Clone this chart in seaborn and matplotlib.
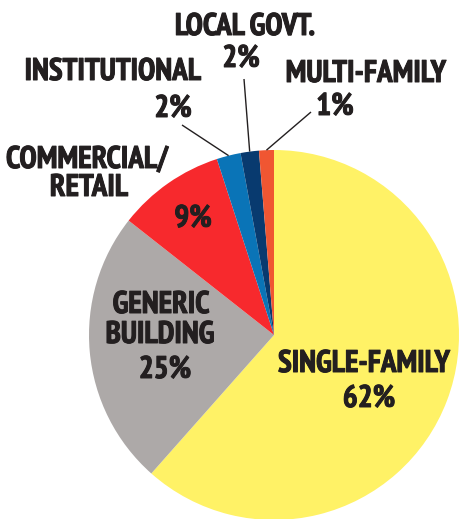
import numpy as np
import matplotlib.pyplot as plt
import matplotlib.patheffects as pe
import seaborn as sns

# --- data (clockwise from 12 o'clock)
categories = ["SINGLE-FAMILY", "GENERIC BUILDING", "COMMERCIAL/RETAIL",
              "INSTITUTIONAL", "LOCAL GOVT.", "MULTI-FAMILY"]
shares = [61.6, 24.1, 9.4, 2.1, 1.6, 1.3]
pct_labels = ["62%", "25%", "9%", "2%", "2%", "1%"]
colors = ["#FFF266", "#ADA9A8", "#F7292D", "#0A74B7", "#083A6F", "#F05632"]

sns.set_theme(style="white")
plt.rcParams['font.family'] = ['PT Sans Narrow', 'Fira Sans Condensed', 'DejaVu Sans']
ink = "#231F20"
fs = 22.5

fig = plt.figure(figsize=(4.6, 5.19), dpi=100)
ax = fig.add_axes([0, 0, 1, 1])

# pie in pixel-like units so the layout is easy to place
cx, cy, r = 274, 184, 185
wedges, _ = ax.pie(shares, colors=sns.color_palette(colors), startangle=90,
                   counterclock=False, center=(cx, cy), radius=r,
                   wedgeprops=dict(linewidth=0))
ax.set_xlim(0, 460)
ax.set_ylim(0, 519)
ax.set_aspect('equal')
ax.axis('off')

heavy = [pe.withStroke(linewidth=0.7, foreground=ink)]


def txt(x, y, s, ha='center'):
    ax.text(x, y, s, ha=ha, va='baseline', fontsize=fs, fontweight='bold',
            color=ink, path_effects=heavy)


# labels inside / beside the big slices
txt(364, 147, "SINGLE-FAMILY")
txt(369, 112, pct_labels[0])
txt(161, 206, "GENERIC")
txt(160, 176, "BUILDING")
txt(165, 141, pct_labels[1])
txt(87, 351, "COMMERCIAL/")
txt(89, 323, "RETAIL")
txt(193, 292, pct_labels[2])

# small slices get labels above with leader lines
txt(113, 439, "INSTITUTIONAL")
txt(173, 402, pct_labels[3])
txt(245, 484, "LOCAL GOVT.")
txt(241, 452, pct_labels[4])
txt(366, 437, "MULTI-FAMILY")
txt(335, 404, pct_labels[5])

leader_ends = {3: (182, 394), 4: (244, 440), 5: (311, 407)}
for i, (ex, ey) in leader_ends.items():
    w = wedges[i]
    mid = np.deg2rad((w.theta1 + w.theta2) / 2)
    px, py = cx + r * np.cos(mid), cy + r * np.sin(mid)
    ax.plot([px, ex], [py, ey], color=ink, lw=1.0, solid_capstyle='butt')

plt.savefig('out.png', dpi=100)
plt.close()
